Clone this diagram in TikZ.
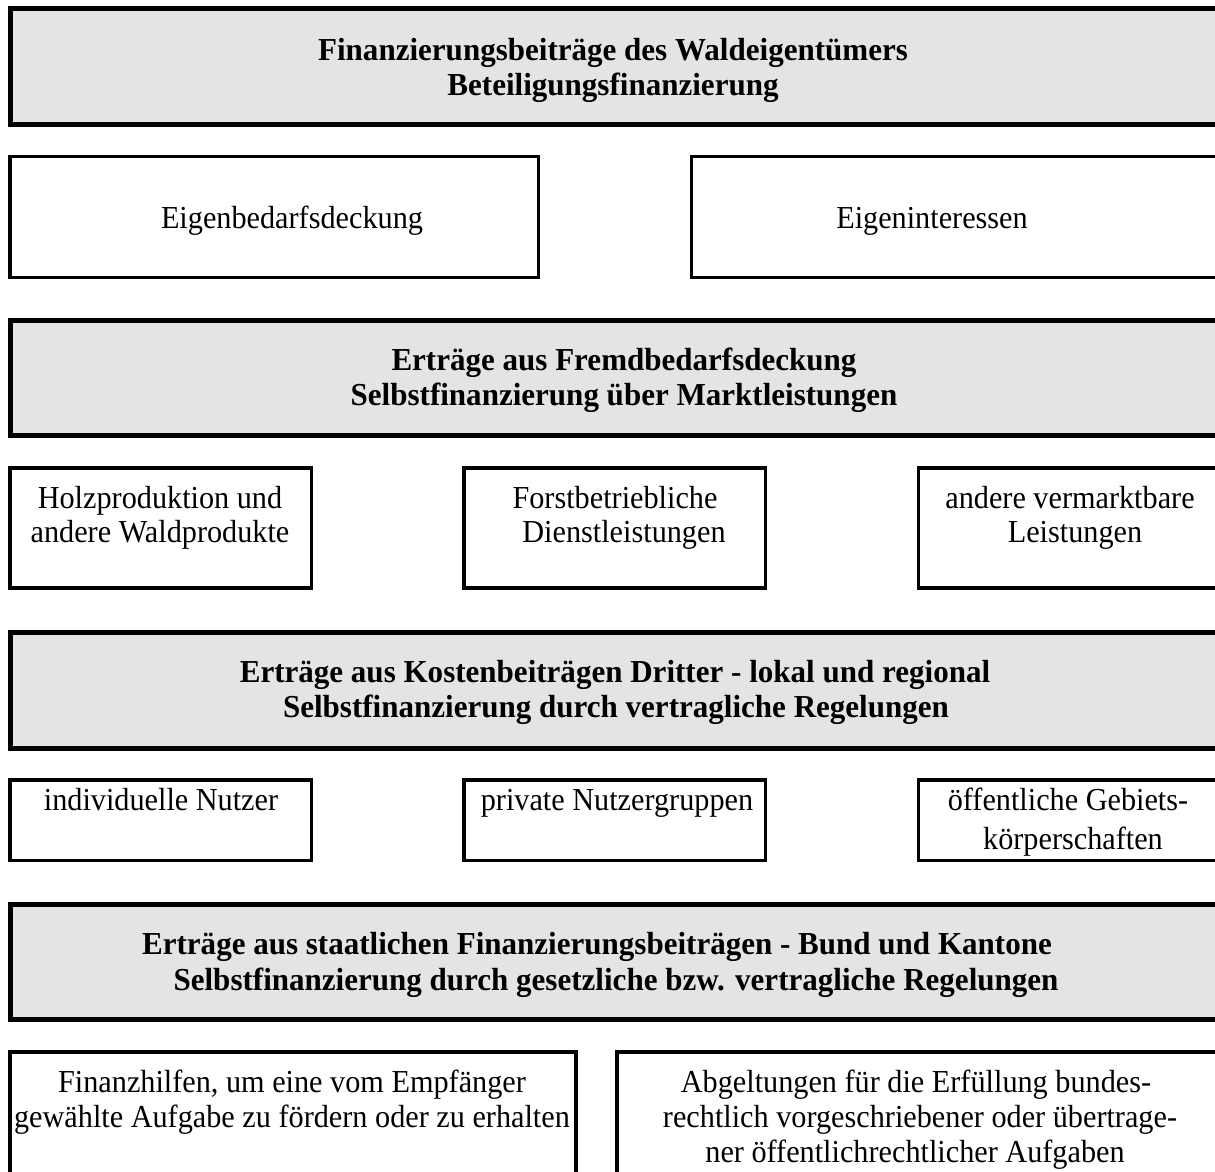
\documentclass[tikz,border=0pt]{standalone}
\usepackage{fontspec}
\setmainfont{Liberation Serif}
\newfontfamily\bodyfont{Liberation Serif}[FakeStretch=0.945]
\newfontfamily\headfont{Liberation Serif}[FakeStretch=0.97]
\definecolor{boxgray}{RGB}{228,228,228}
\begin{document}
\begin{tikzpicture}[x=1pt,y=-1pt,
  graybox/.style={draw=black, line width=5pt, fill=boxgray, rectangle, inner sep=0pt, outer sep=0pt, minimum width=1209.5pt},
  whitebox/.style={draw=black, line width=3.5pt, fill=white, rectangle, inner sep=0pt, outer sep=0pt},
  head/.style={font=\headfont\fontsize{32}{36}\selectfont\bfseries, anchor=base, inner sep=0pt},
  body/.style={font=\bodyfont\fontsize{32}{36}\selectfont, anchor=base, inner sep=0pt}]
\useasboundingbox (0,0) rectangle (1215,1171);
\clip (0,0) rectangle (1215,1171);
\fill[white] (0,0) rectangle (1215,1171);

% gray heading boxes
\node[graybox, minimum height=116pt] (g1) at (615.25,66.5) {};
\node[graybox, minimum height=115pt] (g2) at (615.25,378) {};
\node[graybox, minimum height=116pt] (g3) at (615.25,690.5) {};
\node[graybox, minimum height=115pt] (g4) at (615.25,962) {};

% row 1
\node[whitebox, minimum width=528.5pt, minimum height=121pt] (e1) at (274.25,217) {};
\node[whitebox, minimum width=533.5pt, minimum height=121pt] (e2) at (958.25,217) {};
% row 3
\node[whitebox, minimum width=301.5pt, minimum height=120pt] (h1) at (160.75,528) {};
\node[whitebox, minimum width=301.5pt, minimum height=120pt] (h2) at (614.75,528) {};
\node[whitebox, minimum width=306.5pt, minimum height=120pt] (h3) at (1071.75,528) {};
% row 5
\node[whitebox, minimum width=301.5pt, minimum height=80.5pt] (i1) at (160.75,820.25) {};
\node[whitebox, minimum width=301.5pt, minimum height=80.5pt] (i2) at (614.75,820.25) {};
\node[whitebox, minimum width=306.5pt, minimum height=80.5pt] (i3) at (1071.75,820.25) {};
% row 7
\node[whitebox, minimum width=566pt, minimum height=148pt] (f1) at (293,1126) {};
\node[whitebox, minimum width=608pt, minimum height=148pt] (f2) at (921,1126) {};

% texts
\node[head] (g1a) at (613,60) {Finanzierungsbeiträge des Waldeigentümers};
\node[head] (g1b) at (613,95) {Beteiligungsfinanzierung};

\node[body] (e1t) at (292,228) {Eigenbedarfsdeckung};
\node[body] (e2t) at (932,228) {Eigeninteressen};

\node[head] (g2a) at (624,370) {Erträge aus Fremdbedarfsdeckung};
\node[head] (g2b) at (624,405) {Selbstfinanzierung über Marktleistungen};

\node[body] (h1a) at (160,508) {Holzproduktion und};
\node[body] (h1b) at (160,542) {andere Waldprodukte};
\node[body] (h2a) at (615,508) {Forstbetriebliche};
\node[body] (h2b) at (624,542) {Dienstleistungen};
\node[body] (h3a) at (1070,508) {andere vermarktbare};
\node[body] (h3b) at (1075,542) {Leistungen};

\node[head] (g3a) at (615,682) {Erträge aus Kostenbeiträgen Dritter - lokal und regional};
\node[head] (g3b) at (616,717) {Selbstfinanzierung durch vertragliche Regelungen};

\node[body] (i1t) at (161,810) {individuelle Nutzer};
\node[body] (i2t) at (617,810) {private Nutzergruppen};
\node[body] (i3a) at (1068,810) {öffentliche Gebiets-};
\node[body] (i3b) at (1073,849) {körperschaften};

\node[head] (g4a) at (597,954) {Erträge aus staatlichen Finanzierungsbeiträgen - Bund und Kantone};
\node[head] (g4b) at (616,990) {Selbstfinanzierung durch gesetzliche bzw. vertragliche Regelungen};

\node[body] (f1a) at (292,1092) {Finanzhilfen, um eine vom Empfänger};
\node[body] (f1b) at (292,1127) {gewählte Aufgabe zu fördern oder zu erhalten};
\node[body] (f2a) at (916,1092) {Abgeltungen für die Erfüllung bundes-};
\node[body] (f2b) at (920,1127) {rechtlich vorgeschriebener oder übertrage-};
\node[body] (f2c) at (915,1162) {ner öffentlichrechtlicher Aufgaben};
\end{tikzpicture}
\end{document}
